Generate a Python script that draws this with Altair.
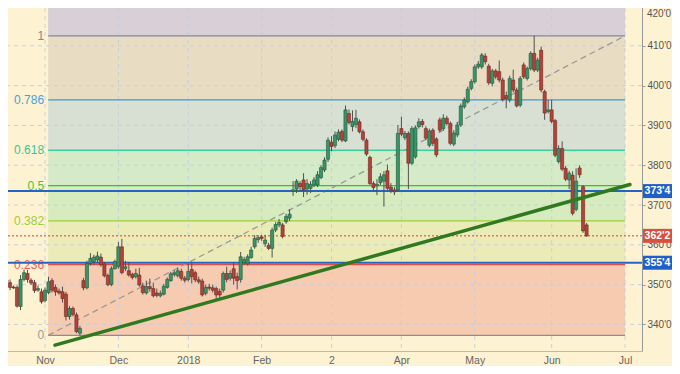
import altair as alt
import pandas as pd

# ---------------- data ----------------
FIRST_INDEX = -13  # trading-day index of first candle (0 = 1 Nov 2017)

OPEN = [348.8, 353.0, 351.1, 350.5, 349.4, 349.3, 344.5, 351.3, 352.8, 351.1, 350.5, 348.6, 348.2,
        346.0, 348.0, 351.0, 349.3, 348.4, 348.2, 347.6, 342.0, 344.0, 342.4, 337.8,
        351.0, 349.2, 355.3, 355.8, 356.2, 356.9, 355.2, 352.3, 350.0, 354.0,
        354.5, 359.5, 354.0, 353.5, 352.6, 352.0, 352.4, 349.7, 347.9, 349.5,
        349.0, 347.9, 347.2, 347.6, 349.3, 351.0, 352.5, 352.2, 353.3, 351.6,
        351.3, 353.8, 353.0, 351.2, 350.9, 347.8, 349.4, 349.2, 349.0, 348.3,
        348.6, 352.8, 351.6, 354.0, 352.0, 351.3, 355.5, 355.2, 356.8, 359.5,
        361.3, 362.0, 360.3, 359.9, 359.1, 363.7, 365.0, 365.0, 365.8, 366.7,
        373.5, 374.0, 375.4, 376.3, 374.0, 374.2, 375.0, 375.0, 376.9, 378.8,
        381.5, 385.8, 384.9, 386.5, 388.5, 386.1, 393.0, 389.7, 390.2, 390.9,
        388.4, 386.3, 382.0, 375.4, 374.8, 375.6, 376.0, 378.6, 374.5, 373.8,
        373.8, 389.2, 386.9, 388.0, 380.5, 382.1, 389.7, 391.0, 389.2, 385.0,
        388.8, 386.6, 391.4, 389.2, 391.8, 390.5, 385.3, 387.6, 390.1, 394.7,
        395.9, 399.3, 401.0, 404.7, 404.7, 407.4, 404.9, 400.6, 403.7, 403.5,
        401.4, 397.5, 396.4, 401.4, 398.9, 395.1, 405.2, 401.8, 404.3, 408.1,
        403.9, 408.9, 398.5, 393.5, 393.9, 391.2, 380.9, 384.2, 379.2, 376.3,
        377.5, 368.9, 379.3, 374.6, 365.0]
HIGH = [353.3, 353.7, 352.0, 351.3, 349.8, 349.8, 352.4, 353.8, 353.7, 351.6, 351.2, 349.8, 349.0,
        349.3, 352.0, 351.6, 350.0, 349.0, 349.5, 348.2, 344.6, 344.5, 343.0, 339.6,
        351.7, 356.0, 357.9, 357.5, 358.3, 357.8, 355.7, 352.8, 354.6, 356.3,
        360.7, 361.5, 356.0, 355.7, 353.0, 354.0, 354.2, 350.5, 351.0, 351.5,
        350.5, 349.0, 348.5, 350.2, 351.8, 353.2, 353.6, 354.3, 354.0, 352.2,
        355.3, 355.5, 353.5, 352.0, 351.5, 350.0, 350.2, 350.0, 349.5, 349.0,
        353.3, 354.5, 353.6, 355.5, 353.0, 358.2, 357.0, 357.6, 359.5, 362.4,
        362.4, 362.5, 362.5, 360.5, 364.3, 365.7, 366.5, 365.5, 367.8, 369.0,
        376.0, 376.5, 376.0, 378.0, 376.5, 376.0, 377.0, 378.5, 380.0, 382.0,
        387.0, 387.3, 388.5, 389.0, 389.0, 395.0, 394.0, 393.8, 393.9, 391.5,
        389.0, 386.8, 382.4, 376.0, 376.5, 378.0, 378.5, 380.2, 375.5, 374.5,
        390.1, 392.2, 388.6, 388.5, 389.8, 390.0, 391.8, 391.6, 389.8, 389.2,
        389.3, 387.0, 392.0, 392.8, 392.4, 391.0, 388.8, 390.8, 395.5, 397.0,
        399.8, 401.6, 405.3, 406.2, 408.2, 408.1, 405.5, 404.2, 404.2, 406.3,
        402.0, 398.5, 402.5, 404.0, 399.5, 402.4, 405.8, 404.8, 408.6, 412.5,
        407.0, 409.8, 399.0, 396.4, 396.4, 391.6, 385.0, 386.0, 379.8, 378.6,
        378.5, 379.2, 380.0, 375.0, 365.5]
LOW = [348.0, 350.3, 349.8, 348.6, 348.9, 344.2, 343.6, 350.8, 350.5, 349.9, 347.9, 348.2, 345.2,
       345.5, 347.6, 348.0, 347.2, 347.5, 345.5, 341.0, 341.2, 342.0, 337.8, 337.25,
       348.6, 348.8, 354.8, 355.0, 355.5, 354.5, 351.8, 349.6, 349.6, 353.8,
       354.0, 352.6, 353.4, 352.0, 351.3, 351.5, 349.5, 347.5, 347.5, 348.2,
       346.8, 346.8, 346.8, 347.3, 349.0, 350.7, 352.0, 351.8, 351.0, 350.5,
       350.8, 350.3, 350.6, 350.2, 347.0, 347.3, 348.5, 348.0, 346.3, 346.6,
       348.0, 350.6, 351.0, 350.0, 348.8, 350.5, 355.0, 354.8, 356.5, 359.0,
       360.5, 361.0, 359.5, 358.7, 356.8, 363.2, 364.4, 361.6, 365.3, 366.0,
       372.3, 373.0, 373.5, 372.0, 372.6, 373.0, 374.5, 374.5, 376.5, 378.3,
       380.8, 383.5, 384.3, 386.0, 385.8, 385.8, 390.2, 388.5, 389.3, 388.0,
       386.0, 382.3, 375.0, 373.5, 372.5, 375.0, 369.6, 373.8, 373.0, 372.5,
       373.3, 387.3, 386.3, 374.0, 380.0, 381.6, 389.2, 389.5, 386.3, 384.5,
       384.8, 382.0, 388.3, 388.7, 390.0, 385.0, 384.8, 387.0, 389.6, 394.2,
       395.5, 398.8, 400.5, 404.2, 404.2, 405.3, 400.2, 399.8, 401.6, 400.8,
       396.0, 394.3, 395.8, 398.3, 394.5, 394.6, 401.7, 401.3, 403.8, 403.4,
       403.4, 398.3, 391.4, 393.0, 390.5, 382.0, 380.4, 378.5, 376.0, 374.0,
       367.4, 368.4, 376.8, 363.0, 362.0]
CLOSE = [352.8, 351.3, 350.7, 349.3, 349.2, 344.6, 351.3, 353.0, 351.3, 350.4, 348.5, 349.0, 345.7,
         348.6, 350.7, 348.6, 348.2, 347.9, 346.5, 342.0, 344.0, 342.5, 338.2, 339.0,
         349.2, 355.3, 356.6, 356.9, 357.2, 355.0, 352.2, 350.0, 354.0, 355.8,
         359.5, 353.0, 354.5, 352.4, 351.8, 352.8, 349.9, 348.0, 349.5, 349.0,
         347.2, 347.3, 347.8, 349.6, 351.3, 352.7, 353.0, 353.5, 351.6, 351.1,
         353.3, 352.0, 351.2, 350.7, 347.4, 349.3, 349.1, 348.6, 347.4, 347.4,
         352.8, 351.3, 352.8, 351.6, 351.0, 357.0, 356.3, 357.0, 358.7, 361.6,
         361.8, 361.6, 361.2, 359.1, 363.7, 365.1, 365.6, 362.1, 367.1, 367.7,
         373.8, 376.0, 374.6, 373.8, 375.4, 375.2, 376.3, 377.6, 379.4, 381.3,
         386.3, 384.7, 387.6, 388.3, 386.3, 393.9, 390.7, 391.0, 391.8, 388.4,
         386.5, 382.8, 375.4, 374.4, 375.2, 377.1, 377.6, 374.2, 373.8, 373.3,
         388.0, 387.8, 388.0, 380.5, 389.2, 389.4, 390.9, 390.2, 386.8, 388.6,
         385.5, 382.6, 388.8, 391.8, 390.5, 385.5, 388.1, 390.1, 394.9, 396.4,
         399.1, 401.0, 404.7, 405.4, 407.7, 406.0, 400.7, 403.7, 402.2, 401.4,
         396.5, 396.7, 401.8, 398.9, 394.9, 401.8, 402.2, 404.3, 408.1, 403.9,
         406.4, 398.9, 393.1, 393.9, 391.0, 382.5, 384.2, 379.0, 376.5, 378.0,
         367.9, 376.0, 377.6, 363.5, 362.25]

MONTH_INDEX = [0, 21, 41, 62, 82, 102, 123, 145, 166]
MONTH_LABELS = ["Nov", "Dec", "2018", "Feb", "2", "Apr", "May", "Jun", "Jul"]
PRICE_TICKS = [340, 350, 360, 370, 380, 390, 400, 410, 420]

FIB_LOW = 337.25
FIB_HIGH = 412.5
FIB_RATIOS = [0, 0.236, 0.382, 0.5, 0.618, 0.786, 1]
FIB_LABELS = ["0", "0.236", "0.382", "0.5", "0.618", "0.786", "1"]
FIB_LINE_COLORS = ["#8b8b9b", "#e34b4b", "#9bd13a", "#33c433", "#3ccf9b", "#3d9ad8", "#7f85a6"]
FIB_TEXT_COLORS = ["#9a9a9a", "#f06060", "#a0cc3c", "#3ec83e", "#38c898", "#4aa0dc", "#888888"]
FIB_BAND_COLORS = ["#f6cbb0", "#ebebb8", "#d6ebbe", "#d5ebc8", "#d8e0d3", "#e8dcc2", "#d9cfd6"]
FIB_START = 0.9
FIB_END = 166

TREND_X = [2.86, 167.4]
TREND_Y = [334.8, 375.15]

LEVEL_LINES = [373.5, 355.5]
LEVEL_TAGS = ["373'4", "355'4"]
LAST_PRICE = 362.25
LAST_TAG = "362'2"

X_DOMAIN = [-12.88, 170.86]
Y_DOMAIN = [333.32, 421.51]

BG = "#fdf2d2"
FONT = "Liberation Sans"

# ---------------- tables ----------------
n = len(CLOSE)
candles = pd.DataFrame({
    "idx": [FIRST_INDEX + i for i in range(n)],
    "open": OPEN, "high": HIGH, "low": LOW, "close": CLOSE,
})
candles["x0"] = candles["idx"] - 0.45
candles["x1"] = candles["idx"] + 0.45
up = candles["close"] >= candles["open"]
candles["fill"] = ["#3b9468" if u else "#b2433a" for u in up]
candles["edge"] = ["#23553b" if u else "#6e2820" for u in up]

levels = [FIB_LOW + r * (FIB_HIGH - FIB_LOW) for r in FIB_RATIOS]
bands = pd.DataFrame({
    "x0": FIB_START, "x1": FIB_END,
    "lo": levels,
    "hi": levels[1:] + [Y_DOMAIN[1]],
    "col": FIB_BAND_COLORS,
})
fib = pd.DataFrame({
    "x0": FIB_START, "x1": FIB_END, "lvl": levels,
    "label": FIB_LABELS, "lc": FIB_LINE_COLORS, "tc": FIB_TEXT_COLORS,
})
diag = pd.DataFrame({"x": [FIB_START, FIB_END], "y": [FIB_LOW, FIB_HIGH]})
trend = pd.DataFrame({"x": TREND_X, "y": TREND_Y})
hgrid = pd.DataFrame({"y": PRICE_TICKS})
vgrid = pd.DataFrame({"x": MONTH_INDEX})
blue = pd.DataFrame({"y": LEVEL_LINES, "tag": LEVEL_TAGS})
last = pd.DataFrame({"y": [LAST_PRICE], "tag": [LAST_TAG]})
top_label = pd.DataFrame({"y": [PRICE_TICKS[-1]], "t": [f"{PRICE_TICKS[-1]}'0"]})

xs = alt.Scale(domain=X_DOMAIN, nice=False, zero=False)
ys = alt.Scale(domain=Y_DOMAIN, nice=False, zero=False)

label_expr = " : ".join(f"datum.value == {i} ? '{l}'" for i, l in zip(MONTH_INDEX, MONTH_LABELS)) + " : ''"

X_AXIS = alt.Axis(values=MONTH_INDEX, labelExpr=label_expr, grid=False, ticks=False, tickSize=0,
                  domain=True, domainColor="#b8b8b8", labelFont=FONT, labelFontSize=10.5,
                  labelColor="#666666", labelPadding=4, labelFlush=False, title=None)
Y_AXIS = alt.Axis(orient="right", values=PRICE_TICKS,
                  labelExpr=f"datum.value == {PRICE_TICKS[-1]} ? '' : datum.value + \"'0\"", grid=False,
                  ticks=True, tickSize=3, tickColor="#999999", domain=True, domainColor="#999999",
                  labelFont=FONT, labelFontSize=10, labelColor="#555555", labelPadding=2, title=None)

band_layer = alt.Chart(bands).mark_rect().encode(
    x=alt.X("x0:Q", scale=xs, axis=X_AXIS), x2="x1:Q",
    y=alt.Y("lo:Q", scale=ys, axis=Y_AXIS), y2="hi:Q",
    color=alt.Color("col:N", scale=None),
)
hgrid_layer = alt.Chart(hgrid).mark_rule(color="#c4cce4", strokeDash=[4, 4], strokeWidth=1, opacity=0.9).encode(
    y=alt.Y("y:Q", scale=ys))
vgrid_layer = alt.Chart(vgrid).mark_rule(color="#c4cce4", strokeDash=[4, 4], strokeWidth=1, opacity=0.9).encode(
    x=alt.X("x:Q", scale=xs))
fib_lines = alt.Chart(fib).mark_rule(strokeWidth=1.3).encode(
    x=alt.X("x0:Q", scale=xs), x2="x1:Q", y=alt.Y("lvl:Q", scale=ys),
    color=alt.Color("lc:N", scale=None))
fib_text = alt.Chart(fib).mark_text(align="right", baseline="middle", dx=-4, font=FONT, fontSize=12).encode(
    x=alt.X("x0:Q", scale=xs), y=alt.Y("lvl:Q", scale=ys), text="label:N",
    color=alt.Color("tc:N", scale=None))
diag_layer = alt.Chart(diag).mark_line(color="#9a9a9a", strokeDash=[6, 4], strokeWidth=1.3).encode(
    x=alt.X("x:Q", scale=xs), y=alt.Y("y:Q", scale=ys))
blue_layer = alt.Chart(blue).mark_rule(color="#2464c4", strokeWidth=2).encode(y=alt.Y("y:Q", scale=ys))
last_layer = alt.Chart(last).mark_rule(color="#e03a30", strokeDash=[2, 2], strokeWidth=1).encode(
    y=alt.Y("y:Q", scale=ys))
wicks = alt.Chart(candles).mark_rule(color="#505050", strokeWidth=1).encode(
    x=alt.X("idx:Q", scale=xs), y=alt.Y("low:Q", scale=ys), y2="high:Q")
bodies = alt.Chart(candles).mark_rect(strokeWidth=0.6).encode(
    x=alt.X("x0:Q", scale=xs), x2="x1:Q", y=alt.Y("open:Q", scale=ys), y2="close:Q",
    color=alt.Color("fill:N", scale=None), stroke=alt.Stroke("edge:N", scale=None))
trend_layer = alt.Chart(trend).mark_line(color="#2f7a1f", strokeWidth=3.5, strokeCap="round").encode(
    x=alt.X("x:Q", scale=xs), y=alt.Y("y:Q", scale=ys))

top_text = alt.Chart(top_label).mark_text(color="#555555", font=FONT, fontSize=10, align="left",
                                          baseline="top", dy=3, clip=False).encode(
    x=alt.value(647), y=alt.Y("y:Q", scale=ys), text="t:N")
blue_tag = alt.Chart(blue).mark_rule(color="#1f5fc8", strokeWidth=14, strokeCap="butt", clip=False).encode(
    x=alt.value(643), x2=alt.value(672), y=alt.Y("y:Q", scale=ys))
blue_tag_text = alt.Chart(blue).mark_text(color="white", font=FONT, fontSize=10.5, fontWeight="bold",
                                          align="center", baseline="middle", clip=False).encode(
    x=alt.value(657.5), y=alt.Y("y:Q", scale=ys), text="tag:N")
last_tag = alt.Chart(last).mark_rule(color="#d9503c", strokeWidth=14, strokeCap="butt", clip=False).encode(
    x=alt.value(643), x2=alt.value(672), y=alt.Y("y:Q", scale=ys))
last_tag_text = alt.Chart(last).mark_text(color="white", font=FONT, fontSize=10.5, fontWeight="bold",
                                          align="center", baseline="middle", clip=False).encode(
    x=alt.value(657.5), y=alt.Y("y:Q", scale=ys), text="tag:N")

chart = alt.layer(
    band_layer, hgrid_layer, vgrid_layer, fib_lines, diag_layer, fib_text,
    last_layer, blue_layer, wicks, bodies, trend_layer, top_text,
    blue_tag, blue_tag_text, last_tag, last_tag_text,
).properties(
    width=642, height=351,
    padding={"left": -8, "top": -8, "right": 30, "bottom": 15},
    autosize=alt.AutoSizeParams(type="none"),
    background=BG,
).configure_view(stroke=None, fill=BG)

chart.save("out.html", embed_options={"renderer": "svg", "actions": False})
